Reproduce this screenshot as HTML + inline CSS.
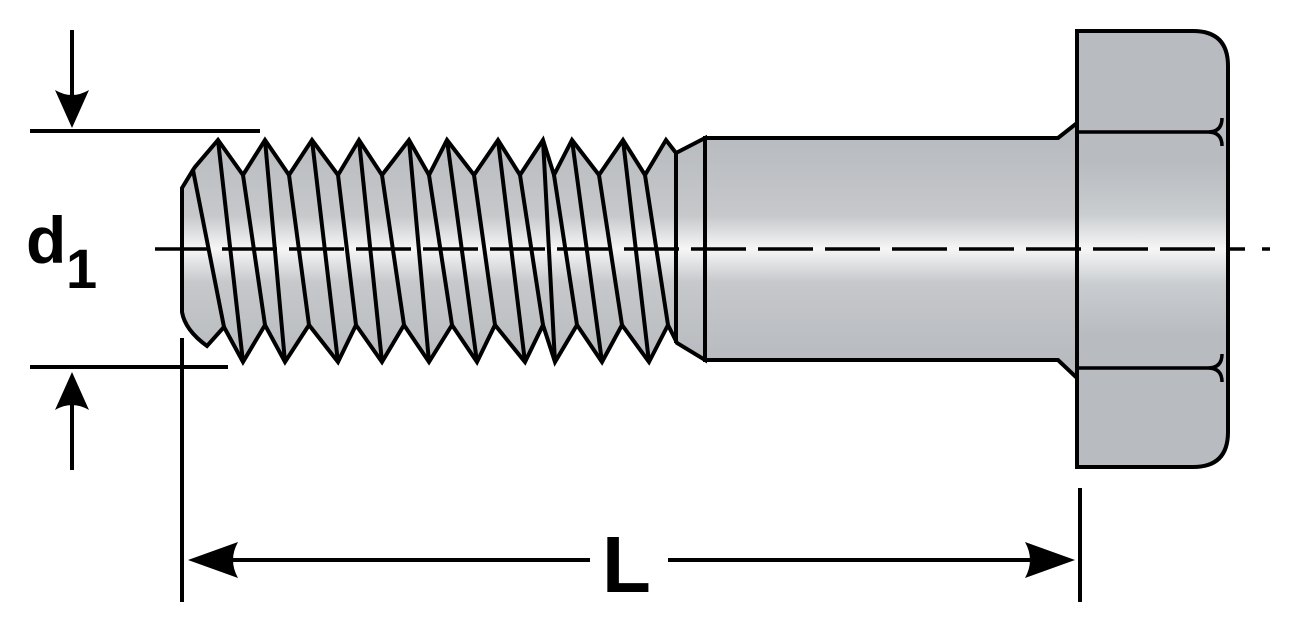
<!DOCTYPE html>
<html><head><style>body{margin:0;background:#fff}svg{display:block}</style></head><body>
<svg width="1290" height="638" viewBox="0 0 1290 638" xmlns="http://www.w3.org/2000/svg">
<defs>
<linearGradient id="g" x1="0" y1="0" x2="0" y2="1">
<stop offset="0" stop-color="#b8bbbf"/><stop offset="0.35" stop-color="#c6c8cb"/><stop offset="0.5" stop-color="#f6f6f6"/><stop offset="0.65" stop-color="#c6c8cb"/><stop offset="1" stop-color="#b8bbbf"/>
</linearGradient>
<linearGradient id="gs" gradientUnits="userSpaceOnUse" x1="0" y1="138" x2="0" y2="360">
<stop offset="0" stop-color="#b8bbbf"/><stop offset="0.35" stop-color="#c6c8cb"/><stop offset="0.5" stop-color="#f6f6f6"/><stop offset="0.65" stop-color="#c6c8cb"/><stop offset="1" stop-color="#b8bbbf"/>
</linearGradient>
<linearGradient id="gh" gradientUnits="userSpaceOnUse" x1="0" y1="31" x2="0" y2="467">
<stop offset="0" stop-color="#b8bbbf"/><stop offset="0.3" stop-color="#b8bbbf"/><stop offset="0.42" stop-color="#cacdd0"/><stop offset="0.5" stop-color="#f6f6f6"/><stop offset="0.58" stop-color="#cacdd0"/><stop offset="0.7" stop-color="#b8bbbf"/><stop offset="1" stop-color="#b8bbbf"/>
</linearGradient>
</defs>
<g stroke="#000" stroke-width="4" stroke-linejoin="miter" fill="none">
<!-- head -->
<path d="M1077,31 H1193 Q1228,31 1228,66 V432 Q1228,467 1193,467 H1077 Z" fill="url(#gh)"/>
<path d="M1077,132 H1208 Q1222,132 1222,118 M1208,132 Q1222,132 1222,146 M1077,368 H1208 Q1222,368 1222,354 M1208,368 Q1222,368 1222,382" stroke-width="3.5"/>
<!-- shank -->
<path d="M705,138 H1058 L1077,123 V378 L1058,360 H705 Z" fill="url(#gs)"/>
<!-- thread -->
<path d="M182,188 L193,170 L195,167 L218,140 L243,175 L265,140 L289,175 L312,140 L338,175 L359,140 L382,175 L409,140 L429,175 L447,140 L474,175 L498,140 L520,175 L543,140 L554,175 L572,140 L599,175 L623,140 L645,175 L666,140 L676,153 L705,138 L705,360 L677,343 L668,325 L649,362 L622,325 L602,362 L577,325 L555,362 L543,325 L525,362 L495,325 L477,362 L452,325 L429,362 L404,325 L382,362 L356,325 L338,362 L309,325 L285,362 L265,325 L243,362 L224,327 L207,346 Q185,330 182,312 Z" fill="url(#gs)"/>
<path d="M676,153 V343"/>
<path d="M193,170 L224,327 M218,140 L243,362 M243,175 L265,325 M265,140 L285,362 M289,175 L309,325 M312,140 L338,362 M338,175 L356,325 M359,140 L382,362 M382,175 L404,325 M409,140 L429,362 M429,175 L452,325 M447,140 L477,362 M474,175 L495,325 M498,140 L525,362 M520,175 L543,325 M543,140 L555,362 M554,175 L577,325 M572,140 L602,362 M599,175 L622,325 M623,140 L649,362 M645,175 L668,325"/>
<!-- centerline -->
<path d="M155,249 H1245" stroke-dasharray="55 12" stroke-width="3.5"/>
<path d="M1262,249 H1270" stroke-width="3.5"/>
<!-- dimensions -->
<path d="M30,131 H260 M30,367 H228 M72,30 V100 M72,400 V470 M182,338 V602 M1080,488 V602 M220,560 H590 M668,560 H1045"/>
</g>
<g fill="#000">
<path d="M55,90 L72,128 L89,90 Q72,100 55,90 Z"/>
<path d="M55,410 L72,372 L89,410 Q72,400 55,410 Z"/>
<path d="M188,560 L238,542 Q228,560 238,578 Z"/>
<path d="M1075,560 L1025,542 Q1035,560 1025,578 Z"/>
</g>
<text x="26" y="263" font-family="Liberation Sans, sans-serif" font-weight="bold" font-size="66">d</text>
<text x="66" y="288" font-family="Liberation Sans, sans-serif" font-weight="bold" font-size="56">1</text>
<text x="602" y="592" font-family="Liberation Sans, sans-serif" font-weight="bold" font-size="80">L</text>
</svg>
</body></html>
